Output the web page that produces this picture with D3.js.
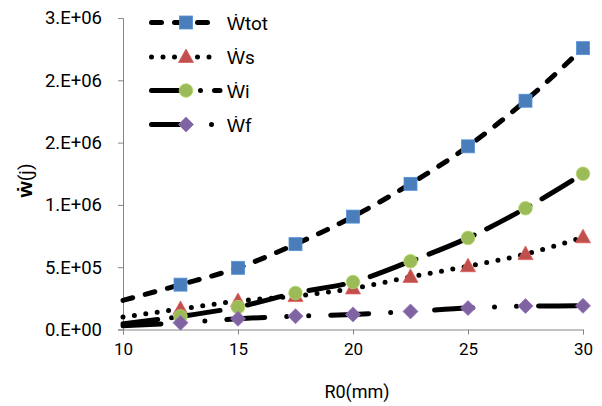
<!DOCTYPE html>
<html>
<head>
<meta charset="utf-8">
<script src="https://cdn.jsdelivr.net/npm/d3@7"></script>
<style>
  body { margin: 0; background: #fff; }
  svg { display: block; }
  text { font-family: Roboto, "Liberation Sans", sans-serif; }
</style>
</head>
<body>
<svg id="chart" width="602" height="406"></svg>
<script>
// R0 in mm, first point (10) is drawn as line only, no marker
var r0 = [10, 12.5, 15, 17.5, 20, 22.5, 25, 27.5, 30];

// work values in J
var wtot = [234000, 360000, 495000, 685000, 906000, 1169000, 1470000, 1836000, 2258000];
var ws   = [100000, 165000, 228000, 268000, 330000, 422000, 508000, 605000, 740000];
var wi   = [46000, 105000, 180000, 293000, 381000, 548000, 735000, 973000, 1250000];
var wf   = [30000, 54000, 86000, 107000, 121000, 145000, 172000, 188000, 190000];

var seriesNames = ["Ẇtot", "Ẇs", "Ẇi", "Ẇf"];

var xTicks = [10, 15, 20, 25, 30];
var yTicks = [0, 500000, 1000000, 1500000, 2000000, 2500000];
var yTickLabels = ["0.E+00", "5.E+05", "1.E+06", "2.E+06", "2.E+06", "3.E+06"];

// look of each series (kept apart from the numbers)
var styles = [
  { dash: "10,13",             marker: "square",   color: "#4a7ebb", legendEnd: 212 },
  { dash: "0,11.5",            marker: "triangle", color: "#c0504d", legendEnd: 212 },
  { dash: "35,14,0,14",        marker: "circle",   color: "#9bbb59", legendEnd: 220 },
  { dash: "38,22,0,22,0,22",   marker: "diamond",  color: "#8064a2", legendEnd: 218 }
];

var allSeries = [wtot, ws, wi, wf];

var svg = d3.select("#chart");

var x = d3.scaleLinear().domain([10, 30]).range([123, 583]);
var y = d3.scaleLinear().domain([0, 2500000]).range([329.5, 18]);

// axes
var xAxis = d3.axisBottom(x).tickValues(xTicks).tickSizeOuter(0).tickSize(5).tickPadding(8);
var yAxis = d3.axisLeft(y).tickValues(yTicks).tickSizeOuter(0).tickSize(5).tickPadding(16)
  .tickFormat(function(d, i){ return yTickLabels[i]; });

var gx = svg.append("g").attr("transform", "translate(0," + y(0) + ")").call(xAxis);
var gy = svg.append("g").attr("transform", "translate(" + x(10) + ",0)").call(yAxis);

[gx, gy].forEach(function(g){
  g.selectAll("path, line").attr("stroke", "#868686").attr("stroke-width", 1);
  g.selectAll("text").attr("fill", "#000");
});
gx.selectAll("text").style("font-size", "17px");
gy.selectAll("text").style("font-size", "18.5px");

// axis titles
svg.append("text")
  .attr("x", 357).attr("y", 398)
  .attr("text-anchor", "middle")
  .style("font-size", "18px")
  .text("R0(mm)");

var yt = svg.append("text")
  .attr("transform", "translate(32,180.5) rotate(-90)")
  .attr("text-anchor", "middle");
yt.append("tspan").style("font-size", "21px").style("font-weight", "bold").text("ẇ");
yt.append("tspan").style("font-size", "19px").text("(j)");

function drawMarker(g, type, cx, cy, color){
  var m;
  if(type === "square"){
    m = g.append("rect").attr("x", cx - 6.5).attr("y", cy - 6.5).attr("width", 13).attr("height", 13);
  } else if(type === "circle"){
    m = g.append("circle").attr("cx", cx).attr("cy", cy).attr("r", 6.8);
  } else if(type === "triangle"){
    m = g.append("path").attr("d", "M" + cx + "," + (cy - 8) + "L" + (cx + 7.5) + "," + (cy + 5.5) + "L" + (cx - 7.5) + "," + (cy + 5.5) + "Z");
  } else {
    m = g.append("path").attr("d", "M" + cx + "," + (cy - 7.5) + "L" + (cx + 7.5) + "," + cy + "L" + cx + "," + (cy + 7.5) + "L" + (cx - 7.5) + "," + cy + "Z");
  }
  m.attr("fill", color).attr("stroke", d3.color(color).brighter(0.4)).attr("stroke-width", 0.8);
}

var line = d3.line()
  .x(function(d){ return x(d[0]); })
  .y(function(d){ return y(d[1]); })
  .curve(d3.curveMonotoneX);

allSeries.forEach(function(vals, i){
  var st = styles[i];
  var pts = r0.map(function(r, j){ return [r, vals[j]]; });
  var g = svg.append("g");
  g.append("path")
    .attr("d", line(pts))
    .attr("fill", "none")
    .attr("stroke", "#000")
    .attr("stroke-width", 5)
    .attr("stroke-linecap", "round")
    .attr("stroke-dasharray", st.dash);
  pts.slice(1).forEach(function(p){
    drawMarker(g, st.marker, x(p[0]), y(p[1]), st.color);
  });
});

// legend
var legendY = [22.5, 57, 90.5, 124.5];
seriesNames.forEach(function(name, i){
  var st = styles[i];
  var g = svg.append("g");
  var ly = legendY[i];
  g.append("path")
    .attr("d", "M151.5," + ly + "L" + st.legendEnd + "," + ly)
    .attr("stroke", "#000")
    .attr("stroke-width", 5)
    .attr("stroke-linecap", "round")
    .attr("stroke-dasharray", st.dash);
  drawMarker(g, st.marker, 186, ly, st.color);
  g.append("text")
    .attr("x", 227).attr("y", ly + 7)
    .style("font-size", "19px")
    .text(name);
});
</script>
</body>
</html>
